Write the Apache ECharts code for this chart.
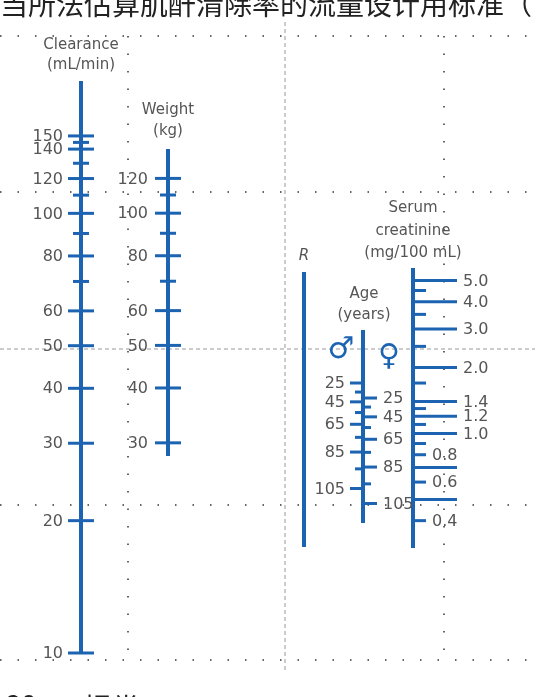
<!DOCTYPE html>
<html>
<head>
<meta charset="utf-8">
<script src="https://cdn.jsdelivr.net/npm/echarts@6/dist/echarts.min.js"></script>
<style>
  html, body { margin: 0; padding: 0; background: #fff; }
  #main { width: 535px; height: 697px; }
</style>
</head>
<body>
<div id="main"></div>
<script>
// 刻度数据
const clearanceMajor = [10, 20, 30, 40, 50, 60, 80, 100, 120, 140, 150];
const clearanceMinor = [70, 90, 110, 130, 145];
const weightMajor = [30, 40, 50, 60, 80, 100, 120];
const weightMinor = [70, 90, 110];
const ageMajor = [25, 45, 65, 85, 105];
const ageMinor = [35, 55, 75, 95];
const creatLong = [5.0, 4.0, 3.0, 2.0, 1.4, 1.2, 1.0, 0.7, 0.5];
const creatShort = [4.5, 3.5, 2.5, 1.7, 1.3, 1.1, 0.9, 0.8, 0.6, 0.4];
const creatLabels = [5.0, 4.0, 3.0, 2.0, 1.4, 1.2, 1.0, 0.8, 0.6, 0.4];
const AGE_K = 160; // age axis is log(K - age)

const BLUE = "#1c63b2";
const GRAY = "#555";
const FONT = "DejaVu Sans";

// 每条标尺一个 grid，轴线在 grid 左边
const scales = [
  { x: 81, top: 81, height: 572, min: 10, max: 200, type: "log" },
  { x: 168, top: 149, height: 307, min: 28, max: 140, type: "log" },
  { x: 304, top: 272, height: 275, min: 0, max: 1, type: "value" },
  { x: 363, top: 330, height: 193, min: 41, max: 212, type: "log" },
  { x: 363, top: 345, height: 193, min: 41, max: 212, type: "log", noLine: true },
  { x: 413, top: 268, height: 280, min: 0.3, max: 5.7, type: "log" },
];

const grid = scales.map((s) => ({ left: s.x, width: 60, top: s.top, height: s.height }));
const xAxis = scales.map((s, i) => ({ type: "value", gridIndex: i, min: 0, max: 1, show: false }));
const yAxis = scales.map((s, i) => ({
  type: s.type,
  gridIndex: i,
  min: s.min,
  max: s.max,
  axisLine: { show: !s.noLine, onZero: false, lineStyle: { color: BLUE, width: 4, cap: "butt" } },
  axisTick: { show: false },
  axisLabel: { show: false },
  splitLine: { show: false },
}));

function tick(v, x1, x2, label, lx, align) {
  return { v, x1, x2, label, lx, align };
}

function tickSeries(gridIdx, items) {
  return {
    type: "custom",
    xAxisIndex: gridIdx,
    yAxisIndex: gridIdx,
    data: items.map((it) => [0, it.v]),
    renderItem(params, api) {
      const it = items[params.dataIndex];
      const p = api.coord([0, api.value(1)]);
      const children = [];
      if (it.x1 !== it.x2) {
        children.push({
          type: "line",
          shape: { x1: p[0] + it.x1, y1: p[1], x2: p[0] + it.x2, y2: p[1] },
          style: { stroke: BLUE, lineWidth: 3 },
        });
      }
      if (it.label != null) {
        children.push({
          type: "text",
          style: {
            x: p[0] + it.lx,
            y: p[1] + 1,
            text: it.label,
            fill: GRAY,
            font: "16px " + FONT,
            align: it.align,
            verticalAlign: "middle",
          },
        });
      }
      return { type: "group", children };
    },
    silent: true,
  };
}

const clearanceItems = clearanceMajor
  .map((v) => tick(v, -13, 13, String(v), -18, "right"))
  .concat(clearanceMinor.map((v) => tick(v, -8, 8)));
const weightItems = weightMajor
  .map((v) => tick(v, -13, 13, String(v), -20, "right"))
  .concat(weightMinor.map((v) => tick(v, -8, 8)));
const maleItems = ageMajor
  .map((a) => tick(AGE_K - a, -13, 0, String(a), -18, "right"))
  .concat(ageMinor.map((a) => tick(AGE_K - a, -8, 0)));
const femaleItems = ageMajor
  .map((a) => tick(AGE_K - a, 0, 14, String(a), 20, "left"))
  .concat(ageMinor.map((a) => tick(AGE_K - a, 0, 8)));
const serumItems = creatLong
  .map((v) => tick(v, 0, 44))
  .concat(creatShort.map((v) => tick(v, 0, 13)))
  .concat(
    creatLabels.map((v) => {
      const long = creatLong.indexOf(v) >= 0;
      return tick(v, 0, 0, v.toFixed(1), long ? 50 : 19, "left");
    })
  );

function dotted(x1, y1, x2, y2) {
  return {
    type: "line",
    z: 0,
    shape: { x1, y1, x2, y2 },
    style: { stroke: "#333", lineWidth: 1.5, lineDash: [1.5, 16] },
  };
}
function dashed(x1, y1, x2, y2) {
  return {
    type: "line",
    z: 0,
    shape: { x1, y1, x2, y2 },
    style: { stroke: "#999", lineWidth: 1, lineDash: [4, 3] },
  };
}
function label(text, x, y, opts = {}) {
  return {
    type: "text",
    x,
    y,
    style: Object.assign(
      { text, fill: GRAY, font: "15px " + FONT, align: "center", verticalAlign: "middle" },
      opts
    ),
  };
}

const graphic = [
  dotted(0, 36, 535, 36),
  dotted(0, 192, 535, 192),
  dotted(0, 505, 535, 505),
  dotted(0, 660, 535, 660),
  dotted(128, 36, 128, 660),
  dotted(444, 36, 444, 660),
  dashed(285, 22, 285, 672),
  dashed(0, 349, 535, 349),
  label("Clearance", 81, 45),
  label("(mL/min)", 81, 65),
  label("Weight", 168, 110),
  label("(kg)", 168, 131),
  label("R", 304, 256, { font: "italic 15px " + FONT }),
  label("Age", 364, 294),
  label("(years)", 364, 315),
  label("Serum", 413, 208),
  label("creatinine", 413, 231),
  label("(mg/100 mL)", 413, 253),
  label("♂", 341, 350, { fill: BLUE, font: "30px " + FONT }),
  label("♀", 389, 357, { fill: BLUE, font: "30px " + FONT }),
  label("当所法估算肌酐清除率的流量设计用标准（", 0, 4, {
    fill: "#222",
    font: "28px 'Noto Sans CJK SC'",
    align: "left",
  }),
  label("20", 6, 704, { fill: "#222", font: "bold 26px 'Noto Sans CJK SC'", align: "left" }),
  label("提常", 84, 708, { fill: "#222", font: "28px 'Noto Sans CJK SC'", align: "left" }),
];

const chart = echarts.init(document.getElementById("main"));
chart.setOption({
  animation: false,
  grid,
  xAxis,
  yAxis,
  graphic,
  series: [
    tickSeries(0, clearanceItems),
    tickSeries(1, weightItems),
    tickSeries(3, maleItems),
    tickSeries(4, femaleItems),
    tickSeries(5, serumItems),
  ],
});
</script>
</body>
</html>
